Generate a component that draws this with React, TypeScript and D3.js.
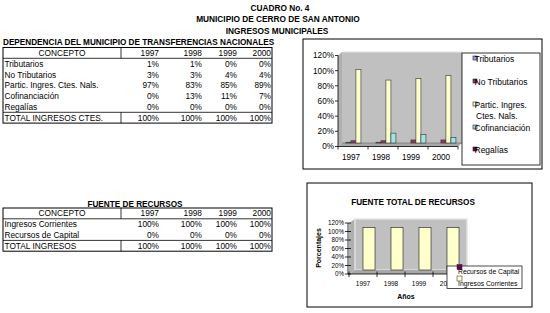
import React from "react";
import * as d3 from "d3";

// ---- data ----
const years = ["1997", "1998", "1999", "2000"];

const conceptos1 = [
  "Tributarios",
  "No Tributarios",
  "Partic. Ingres. Ctes. Nals.",
  "Cofinanciación",
  "Regalías",
];
const tributarios = [1, 1, 0, 0];
const noTributarios = [3, 3, 4, 4];
const particIngres = [97, 83, 85, 89];
const cofinanciacion = [0, 13, 11, 7];
const regalias = [0, 0, 0, 0];
const totalCtes = [100, 100, 100, 100];

const conceptos2 = ["Ingresos Corrientes", "Recursos de Capital"];
const ingresosCorrientes = [100, 100, 100, 100];
const recursosCapital = [0, 0, 0, 0];
const totalIngresos = [100, 100, 100, 100];

const pctTicks = [0, 20, 40, 60, 80, 100, 120];

const series1 = [
  { name: "Tributarios", values: tributarios, color: "#9999FF" },
  { name: "No Tributarios", values: noTributarios, color: "#993366" },
  { name: "Partic. Ingres. Ctes. Nals.", values: particIngres, color: "#FFFFCC" },
  { name: "Cofinanciación", values: cofinanciacion, color: "#A0E4E4" },
  { name: "Regalías", values: regalias, color: "#660066" },
];

const FONT = "'Liberation Sans', Arial, Helvetica, sans-serif";
const fmt = (v: number) => `${v}%`;

// ---- table ----
function DataTable({
  top,
  rows,
  total,
}: {
  top: number;
  rows: { label: string; values: number[] }[];
  total: { label: string; values: number[] };
}) {
  const left = 3;
  const right = 272;
  const divider = 121;
  const rh = 10.8;
  const colRight = [159, 202, 237, 271];
  const nRows = rows.length + 2;
  const bottom = top + rh * nRows;
  const totalTop = top + rh * (rows.length + 1);
  const fs = 8.3;
  const rowY = (i: number) => top + rh * i + rh / 2 + 3;
  return (
    <g fontFamily={FONT} fontSize={fs} fill="#000">
      <rect x={left} y={top} width={right - left} height={bottom - top} fill="none" stroke="#000" strokeWidth={1} />
      <line x1={left} x2={right} y1={top + rh} y2={top + rh} stroke="#000" strokeWidth={0.8} />
      <line x1={left} x2={right} y1={totalTop} y2={totalTop} stroke="#000" strokeWidth={0.8} />
      <line x1={divider} x2={divider} y1={top} y2={top + rh} stroke="#000" strokeWidth={0.8} />
      <line x1={divider} x2={divider} y1={totalTop} y2={bottom} stroke="#000" strokeWidth={0.8} />
      <text x={(left + divider) / 2} y={rowY(0)} textAnchor="middle">CONCEPTO</text>
      {years.map((y, j) => (
        <text key={y} x={colRight[j]} y={rowY(0)} textAnchor="end">{y}</text>
      ))}
      {rows.map((r, i) => (
        <g key={r.label}>
          <text x={left + 1.5} y={rowY(i + 1)}>{r.label}</text>
          {r.values.map((v, j) => (
            <text key={j} x={colRight[j]} y={rowY(i + 1)} textAnchor="end">{fmt(v)}</text>
          ))}
        </g>
      ))}
      <text x={left + 1.5} y={rowY(rows.length + 1)}>{total.label}</text>
      {total.values.map((v, j) => (
        <text key={j} x={colRight[j]} y={rowY(rows.length + 1)} textAnchor="end">{fmt(v)}</text>
      ))}
    </g>
  );
}

// ---- chart 1: clustered 3-D style columns ----
function ChartTransferencias() {
  const x = d3.scaleBand<string>().domain(years).range([338, 458]).padding(0);
  const y = d3.scaleLinear().domain([0, 120]).range([146.5, 55.5]);
  const dx = 4;
  const dy = -3.5;
  const bw = x.bandwidth();
  const barW = bw * 0.167;
  const x0 = x.range()[0];
  const x1 = x.range()[1];
  const wallFill = "#C0C0C0";
  const legendY = [62, 85, 108, 131, 153];
  return (
    <g fontFamily={FONT}>
      <rect x={303} y={39} width={239} height={130} fill="#fff" stroke="#000" strokeWidth={1} />
      {/* walls and floor */}
      <polygon
        points={`${x0},${y(0)} ${x0},${y(120)} ${x0 + dx},${y(120) + dy} ${x0 + dx},${y(0) + dy}`}
        fill="#B0B0B0"
      />
      <rect x={x0 + dx} y={y(120) + dy} width={x1 - x0} height={y(0) - y(120)} fill={wallFill} />
      <line x1={x0 + dx} x2={x1 + dx} y1={y(120) + dy} y2={y(120) + dy} stroke="#E2E2E2" strokeWidth={1.2} />
      <polygon
        points={`${x0},${y(0)} ${x1},${y(0)} ${x1 + dx},${y(0) + dy} ${x0 + dx},${y(0) + dy}`}
        fill="#A8A8A8"
      />
      <line x1={x0 + dx} x2={x1 + dx} y1={y(0) + dy} y2={y(0) + dy} stroke="#666" strokeWidth={0.6} />
      {/* bars */}
      {years.map((yr, j) =>
        series1.map((s, k) => {
          const v = s.values[j];
          if (v <= 0) return null;
          const bx = (x(yr) as number) + dx + bw * 0.13 + k * barW;
          const top = y(v) + dy;
          const h = y(0) - y(v);
          return (
            <rect
              key={`${yr}-${k}`}
              x={bx}
              y={top}
              width={barW}
              height={Math.max(h, 0.6)}
              fill={s.color}
              stroke="#333"
              strokeWidth={0.6}
            />
          );
        })
      )}
      {/* axes */}
      <line x1={x0} x2={x0} y1={y(120)} y2={y(0)} stroke="#000" strokeWidth={0.8} />
      {pctTicks.map((t) => (
        <g key={t}>
          <line x1={x0 - 3} x2={x0} y1={y(t)} y2={y(t)} stroke="#000" strokeWidth={0.8} />
          <text x={x0 - 4} y={y(t)} dy="0.35em" textAnchor="end" fontSize={8.2}>{fmt(t)}</text>
        </g>
      ))}
      <line x1={x0} x2={x1} y1={y(0)} y2={y(0)} stroke="#000" strokeWidth={0.8} />
      {[...years.map((yr) => x(yr) as number), x1].map((tx, i) => (
        <line key={i} x1={tx} x2={tx} y1={y(0)} y2={y(0) + 3} stroke="#000" strokeWidth={0.8} />
      ))}
      {years.map((yr) => (
        <text key={yr} x={(x(yr) as number) + bw / 2 - 2} y={160} textAnchor="middle" fontSize={8.2}>{yr}</text>
      ))}
      {/* legend */}
      <rect x={462} y={53} width={78} height={112} fill="#fff" stroke="#000" strokeWidth={0.8} />
      {series1.map((s, i) => (
        <g key={s.name}>
          <rect x={473} y={legendY[i] - 6} width={4} height={4} fill={s.color} stroke="#222" strokeWidth={0.6} />
          {s.name === "Partic. Ingres. Ctes. Nals." ? (
            <text x={474.5} y={legendY[i]} fontSize={8.5}>
              <tspan x={474.5}>Partic. Ingres.</tspan>
              <tspan x={476} dy={10.5}>Ctes. Nals.</tspan>
            </text>
          ) : (
            <text x={474.5} y={legendY[i]} fontSize={8.5}>{s.name}</text>
          )}
        </g>
      ))}
    </g>
  );
}

// ---- chart 2: total sources ----
function ChartFuenteTotal() {
  const x = d3.scaleBand<string>().domain(years).range([349, 461]).padding(0);
  const y = d3.scaleLinear().domain([0, 120]).range([274, 223]);
  const dx = 6;
  const dy = -4;
  const bw = x.bandwidth();
  const barW = bw * 0.43;
  const x0 = x.range()[0];
  const x1 = x.range()[1];
  const ax = 348;
  return (
    <g fontFamily={FONT}>
      <rect x={307} y={183} width={225} height={124} fill="#fff" stroke="#000" strokeWidth={1} />
      <text x={413} y={205} textAnchor="middle" fontSize={8.2} fontWeight="bold">FUENTE TOTAL DE RECURSOS</text>
      <polygon
        points={`${x0},${y(0)} ${x0},${y(120)} ${x0 + dx},${y(120) + dy} ${x0 + dx},${y(0) + dy}`}
        fill="#B0B0B0"
      />
      <rect x={x0 + dx} y={y(120) + dy} width={x1 - x0} height={y(0) - y(120)} fill="#C0C0C0" stroke="#E4E4E4" strokeWidth={1.4} />
      <polygon
        points={`${x0},${y(0)} ${x1},${y(0)} ${x1 + dx},${y(0) + dy} ${x0 + dx},${y(0) + dy}`}
        fill="#A8A8A8"
      />
      {years.map((yr, j) => {
        const bx = (x(yr) as number) + dx + (bw - barW) / 2;
        const v1 = ingresosCorrientes[j];
        const v2 = recursosCapital[j];
        return (
          <g key={yr}>
            <rect x={bx} y={y(v1) + dy} width={barW} height={y(0) - y(v1)} fill="#FFFFCC" stroke="#333" strokeWidth={0.7} />
            {v2 > 0 && (
              <rect x={bx} y={y(v1 + v2) + dy} width={barW} height={y(v1) - y(v1 + v2)} fill="#660066" stroke="#333" strokeWidth={0.7} />
            )}
          </g>
        );
      })}
      <line x1={ax} x2={ax} y1={y(120)} y2={y(0)} stroke="#000" strokeWidth={0.8} />
      {pctTicks.map((t) => (
        <g key={t}>
          <line x1={ax - 3} x2={ax + 3} y1={y(t)} y2={y(t)} stroke="#000" strokeWidth={0.8} />
          <text x={ax - 4} y={y(t)} dy="0.35em" textAnchor="end" fontSize={6.3}>{fmt(t)}</text>
        </g>
      ))}
      <line x1={ax} x2={x1} y1={y(0)} y2={y(0)} stroke="#000" strokeWidth={0.8} />
      {[...years.map((yr) => x(yr) as number), x1].map((tx, i) => (
        <line key={i} x1={tx} x2={tx} y1={y(0) - 2.5} y2={y(0) + 3} stroke="#000" strokeWidth={0.8} />
      ))}
      {years.map((yr) => (
        <text key={yr} x={(x(yr) as number) + bw / 2} y={286} textAnchor="middle" fontSize={6.5}>{yr}</text>
      ))}
      <text x={406} y={299} textAnchor="middle" fontSize={7} fontWeight="bold">Años</text>
      <text transform="translate(321,248) rotate(-90)" textAnchor="middle" fontSize={7} fontWeight="bold">Porcentajes</text>
      {/* legend */}
      <rect x={447} y={266} width={75} height={22.5} fill="#fff" stroke="#000" strokeWidth={0.7} />
      <rect x={457} y={264.5} width={5} height={5} fill="#660066" stroke="#222" strokeWidth={0.5} />
      <text x={458} y={274} fontSize={6.8}>{conceptos2[1]}</text>
      <rect x={457} y={276} width={5} height={5} fill="#FFFFCC" stroke="#222" strokeWidth={0.5} />
      <text x={458} y={285.5} fontSize={6.8}>{conceptos2[0]}</text>
    </g>
  );
}

export default function App() {
  const rows1 = [tributarios, noTributarios, particIngres, cofinanciacion, regalias].map((v, i) => ({
    label: conceptos1[i],
    values: v,
  }));
  const rows2 = [ingresosCorrientes, recursosCapital].map((v, i) => ({ label: conceptos2[i], values: v }));
  return (
    <svg
      width={550}
      height={313}
      viewBox="0 0 550 313"
      style={{ position: "absolute", left: 0, top: 0, background: "#fff" }}
    >
      <rect width={550} height={313} fill="#fff" />
      <g fontFamily={FONT} fontSize={8.3} fontWeight="bold" textAnchor="middle">
        <text x={280} y={11}>CUADRO No. 4</text>
        <text x={278} y={22}>MUNICIPIO DE CERRO DE SAN ANTONIO</text>
        <text x={277} y={33.5}>INGRESOS MUNICIPALES</text>
      </g>
      <text x={3} y={45} fontFamily={FONT} fontSize={8.2} fontWeight="bold">
        DEPENDENCIA DEL MUNICIPIO DE TRANSFERENCIAS NACIONALES
      </text>
      <DataTable top={47.5} rows={rows1} total={{ label: "TOTAL INGRESOS CTES.", values: totalCtes }} />
      <text x={135} y={206.5} fontFamily={FONT} fontSize={8.2} fontWeight="bold" textAnchor="middle">
        FUENTE DE RECURSOS
      </text>
      <DataTable top={208} rows={rows2} total={{ label: "TOTAL INGRESOS", values: totalIngresos }} />
      <ChartTransferencias />
      <ChartFuenteTotal />
    </svg>
  );
}
